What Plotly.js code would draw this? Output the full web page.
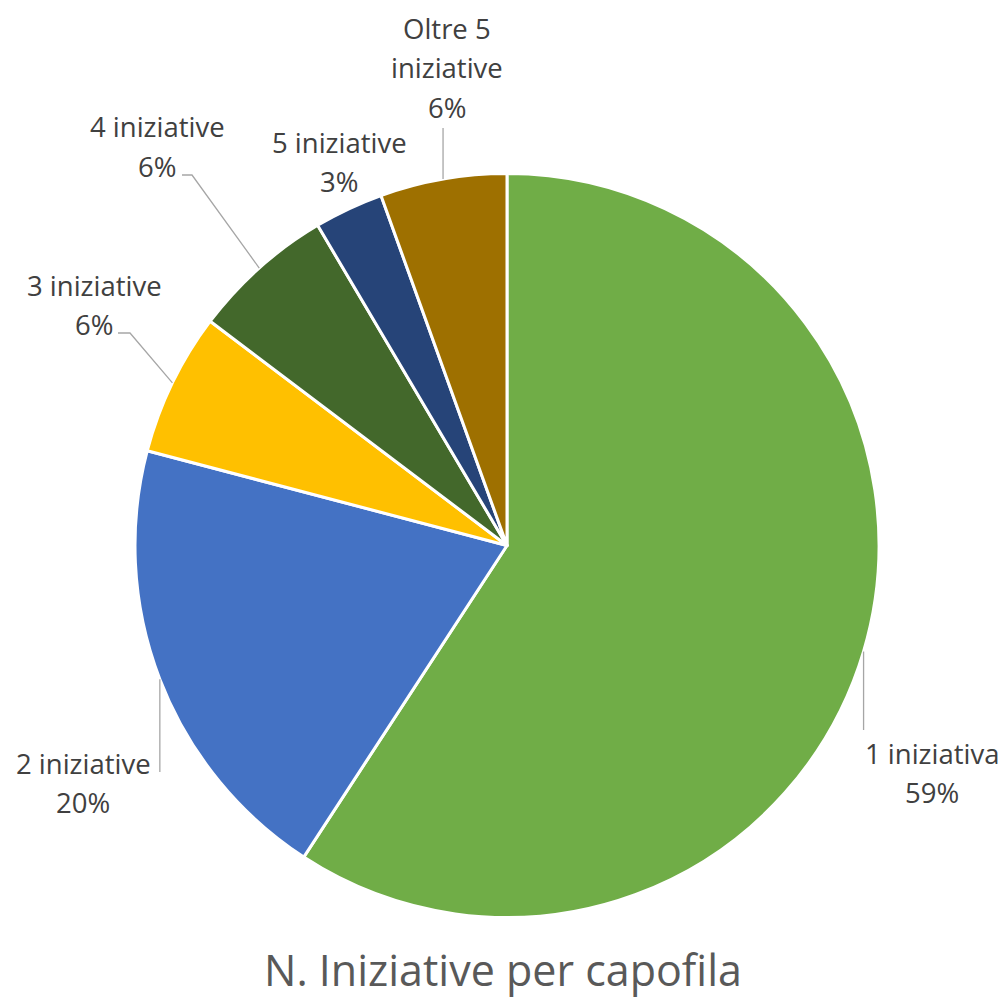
<!DOCTYPE html>
<html>
<head>
<meta charset="utf-8">
<script src="https://cdn.plot.ly/plotly-3.0.1.min.js"></script>
<style>html,body{margin:0;padding:0;background:#fff;}#chart{width:1005px;height:998px;}</style>
</head>
<body>
<div id="chart"></div>
<script>
// ---- data ----
const categories = ["1 iniziativa", "2 iniziative", "3 iniziative", "4 iniziative", "5 iniziative", "Oltre 5 iniziative"];
const shares = [59.2, 19.9, 6.2, 6.2, 3.0, 5.5];
const colors = ["#70AD47", "#4472C4", "#FFC000", "#43682B", "#264478", "#9E7000"];
const chartTitle = "N. Iniziative per capofila";

// ---- layout constants (pixels) ----
const W = 1005, H = 998;
const CX = 507, CY = 545.5, R = 372;
const FONT = "'Open Sans', sans-serif";
const LABEL_SIZE = 27.5;
const LINE_GAP = 39;
// label block: centre x, first-line y, line breaks in the name
const labelLayout = [
  {x: 932, y: 753, lines: ["1 iniziativa"], knees: [["s", 730]]},
  {x: 83,  y: 763, lines: ["2 iniziative"], knees: [["s", 772]]},
  {x: 94,  y: 285, lines: ["3 iniziative"], knees: [[130, 333], [118, 333]]},
  {x: 157, y: 127, lines: ["4 iniziative"], knees: [[192, 175], [182, 175]]},
  {x: 339, y: 143, lines: ["5 iniziative"], knees: null},
  {x: 447, y: 29,  lines: ["Oltre 5", "iniziative"], knees: [["s", 128]]}
];

const px = x => x / W;
const py = y => 1 - y / H;

const total = shares.reduce((a, b) => a + b, 0);
const annotations = [];
const shapes = [];
let cum = 0;
shares.forEach((v, i) => {
  const mid = (cum + v / 2) / total * 2 * Math.PI;
  cum += v;
  const sx = CX + R * Math.sin(mid);
  const sy = CY - R * Math.cos(mid);
  const L = labelLayout[i];
  const pct = Math.round(v / total * 100) + "%";
  const lines = L.lines.concat([pct]);
  lines.forEach((t, k) => {
    annotations.push({
      xref: "paper", yref: "paper", x: px(L.x), y: py(L.y + k * LINE_GAP),
      text: t, showarrow: false, xanchor: "center", yanchor: "middle",
      font: {family: FONT, size: LABEL_SIZE, color: "#404040"}
    });
  });
  if (L.knees) {
    let path = "M" + px(sx) + "," + py(sy);
    L.knees.forEach(k => {
      const kx = k[0] === "s" ? sx : k[0];
      path += " L" + px(kx) + "," + py(k[1]);
    });
    shapes.push({type: "path", xref: "paper", yref: "paper", path: path,
      line: {color: "#A6A6A6", width: 1.3}});
  }
});

annotations.push({
  xref: "paper", yref: "paper", x: px(503), y: py(969),
  text: chartTitle, showarrow: false, xanchor: "center", yanchor: "middle",
  font: {family: FONT, size: 43, color: "#595959"}
});

const trace = {
  type: "pie",
  labels: categories,
  values: shares,
  sort: false,
  direction: "clockwise",
  rotation: 0,
  textinfo: "none",
  hoverinfo: "label+percent",
  marker: {colors: colors, line: {color: "#FFFFFF", width: 3}},
  domain: {x: [px(CX - R), px(CX + R)], y: [py(CY + R), py(CY - R)]},
  showlegend: false
};

const layout = {
  width: W, height: H,
  margin: {l: 0, r: 0, t: 0, b: 0},
  paper_bgcolor: "#FFFFFF",
  showlegend: false,
  annotations: annotations,
  shapes: shapes
};

Plotly.newPlot("chart", [trace], layout, {displayModeBar: false, staticPlot: true});
</script>
</body>
</html>
